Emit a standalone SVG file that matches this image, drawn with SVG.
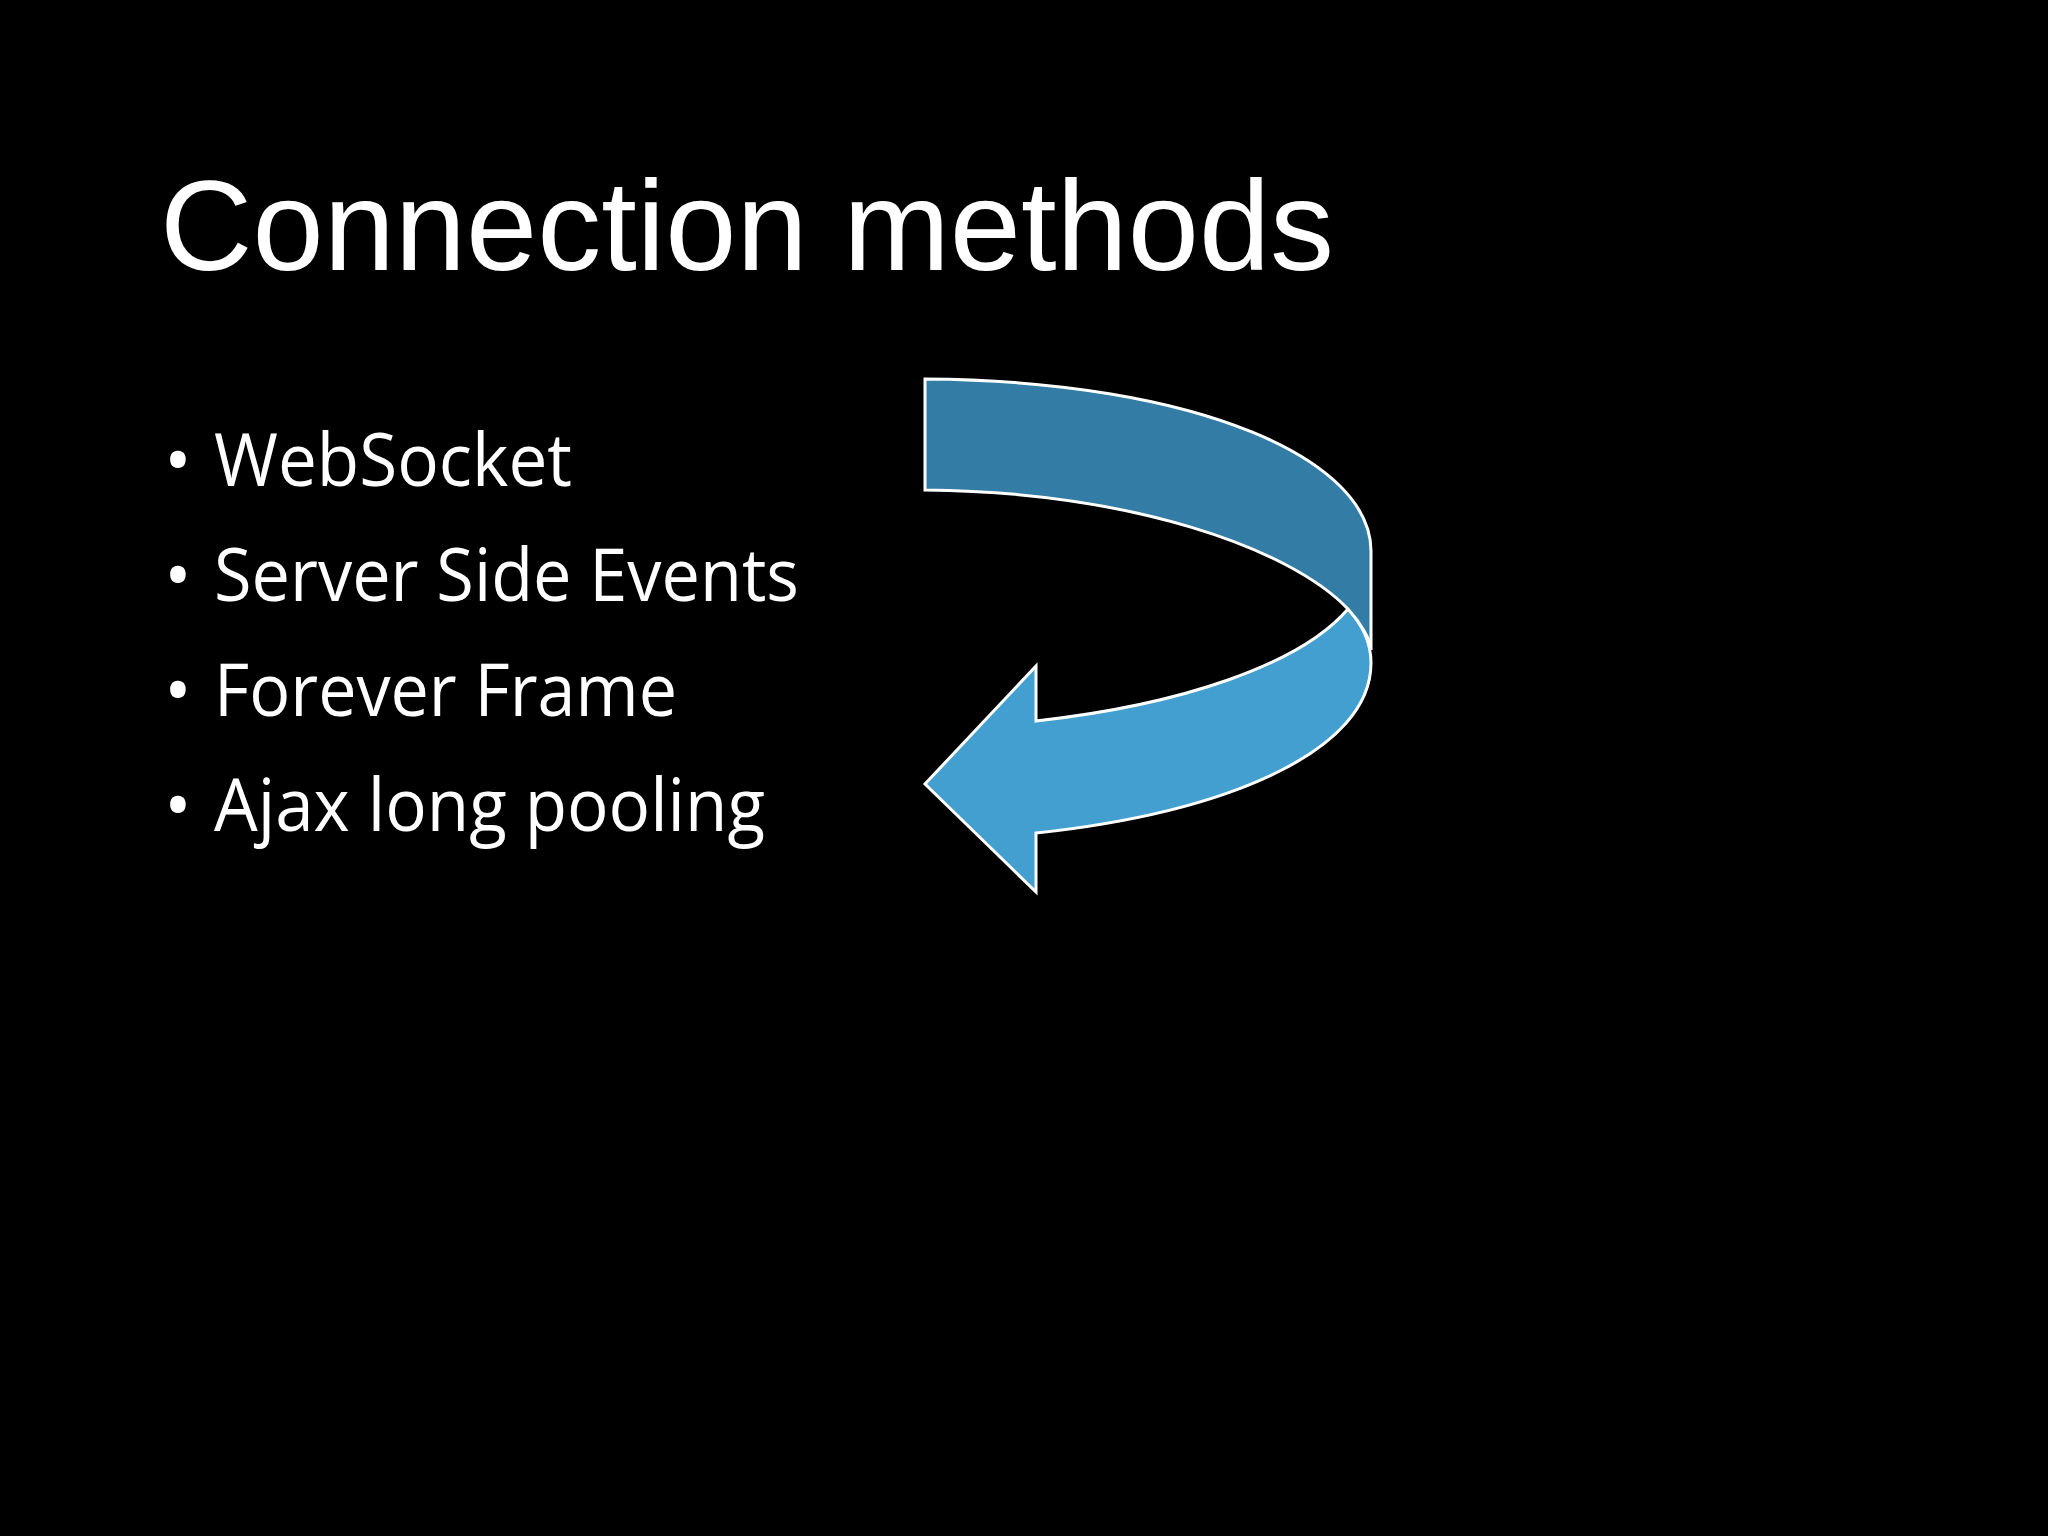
<svg xmlns="http://www.w3.org/2000/svg" width="2048" height="1536" viewBox="0 0 2048 1536">
<style>
.b{font-family:"Open Sans","Liberation Sans",sans-serif;font-size:74px;fill:#fff}
.a{stroke:#fff;stroke-width:3;stroke-linejoin:miter}
</style>
<rect width="2048" height="1536" fill="#000"/>
<text x="160" y="270" font-family="Liberation Sans, Arial, sans-serif" font-size="128" fill="#fff">Connection methods</text>
<g id="list">
<text class="b" x="164" y="486">•</text><text class="b" x="214" y="486" textLength="358" lengthAdjust="spacingAndGlyphs">WebSocket</text>
<text class="b" x="164" y="601">•</text><text class="b" x="214" y="601" textLength="585" lengthAdjust="spacingAndGlyphs">Server Side Events</text>
<text class="b" x="164" y="716">•</text><text class="b" x="214" y="716" textLength="463" lengthAdjust="spacingAndGlyphs">Forever Frame</text>
<text class="b" x="164" y="831">•</text><text class="b" x="214" y="831" textLength="551" lengthAdjust="spacingAndGlyphs">Ajax long pooling</text>
</g>
<g id="arrow">
<path class="a" fill="#429fcf" d="M1348,609 C1300,665 1180,705 1036,721 L1036,666 L925,784 L1036,892 L1036,833 C1230,812 1371,750 1371,663 C1371,640 1360,622 1348,609 Z"/>
<path class="a" fill="#337ca5" d="M925,379 C1200,381 1371,460 1371,551 L1371,650 C1371,640 1360,622 1348,609 C1290,548 1130,492 925,490 Z"/>
</g>
</svg>
